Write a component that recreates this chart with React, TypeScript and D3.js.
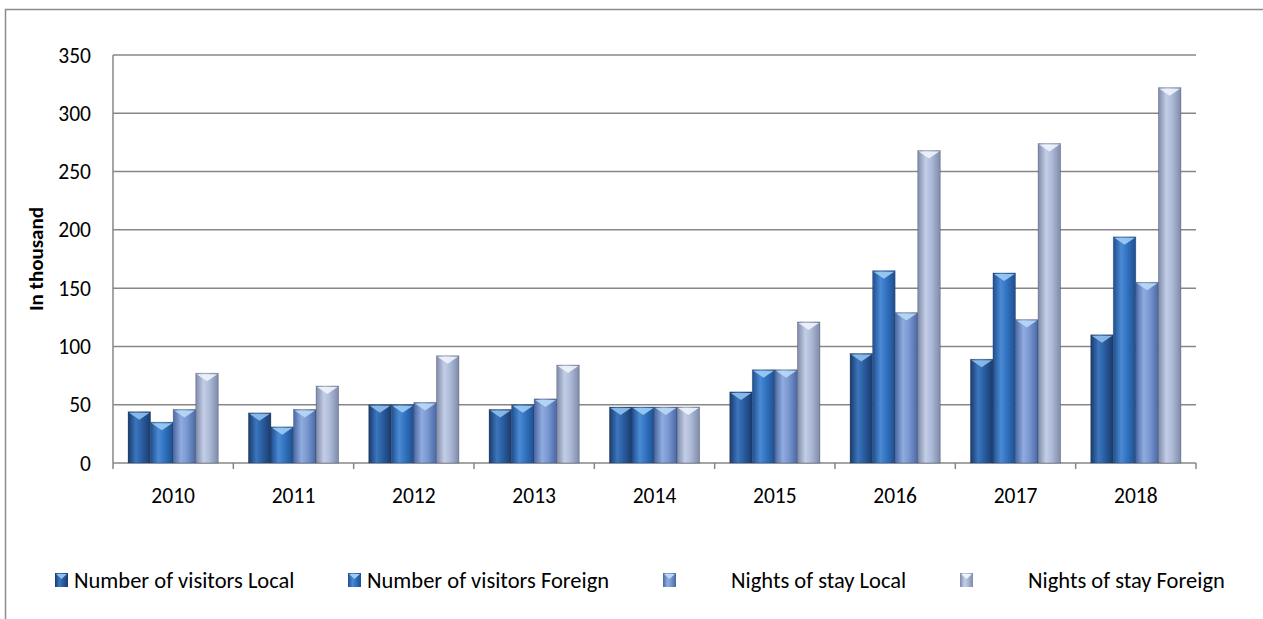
import React from 'react';
import * as d3 from 'd3';

const years = ['2010', '2011', '2012', '2013', '2014', '2015', '2016', '2017', '2018'];
const seriesNames = ['Number of visitors Local', 'Number of visitors Foreign', 'Nights of stay Local', 'Nights of stay Foreign'];
const visitorsLocal = [44, 43, 50, 46, 48, 61, 94, 89, 110];
const visitorsForeign = [35, 31, 50, 50, 48, 80, 165, 163, 194];
const nightsLocal = [46, 46, 52, 55, 48, 80, 129, 123, 155];
const nightsForeign = [77, 66, 92, 84, 48, 121, 268, 274, 322];
const yTicks = [0, 50, 100, 150, 200, 250, 300, 350];

const colors = [
  { dark: '#1a3a6c', mid: '#2b5fa3', light: '#3b76bd', cap: '#8fc1ee' },
  { dark: '#1f4e8e', mid: '#3274c2', light: '#4a8ad4', cap: '#9dcdf4' },
  { dark: '#4a68a3', mid: '#7a98d2', light: '#90abde', cap: '#b8daf6' },
  { dark: '#7d8aa8', mid: '#aebbd9', light: '#c3cde6', cap: '#eef4fc' },
];

const W = 1263;
const H = 619;
const margin = { left: 113, right: 67, top: 55, bottom: 156 };

// legend item positions (square left, text left)
const legendX = [55, 348, 663, 960];
const legendTextX = [74, 367, 731, 1028];

export default function App() {
  const data = [visitorsLocal, visitorsForeign, nightsLocal, nightsForeign];
  const x0 = d3.scaleBand<string>().domain(years).range([margin.left, W - margin.right]).paddingInner(0.25).paddingOuter(0.125);
  const band = d3.scaleBand<string>().domain(years).range([margin.left, W - margin.right]);
  const x1 = d3.scaleBand<number>().domain([0, 1, 2, 3]).range([0, x0.bandwidth()]);
  const y = d3.scaleLinear().domain([0, 350]).range([H - margin.bottom, margin.top]);
  const font = 'Carlito, Calibri, "Open Sans", sans-serif';

  return (
    <div style={{ position: 'absolute', left: 0, top: 0 }}>
      <svg width={W} height={H} style={{ display: 'block', background: '#fff' }}>
        <defs>
          {colors.map((c, i) => (
            <linearGradient key={i} id={`g${i}`} x1="0" x2="1" y1="0" y2="0">
              <stop offset="0" stopColor={c.dark} />
              <stop offset="0.35" stopColor={c.light} />
              <stop offset="0.6" stopColor={c.mid} />
              <stop offset="1" stopColor={c.dark} />
            </linearGradient>
          ))}
        </defs>
        <rect x={5.5} y={9.5} width={W - 4} height={H + 20} fill="none" stroke="#8c8c8c" strokeWidth={1.5} />

        {yTicks.map(t => (
          <g key={t}>
            <line x1={margin.left} x2={W - margin.right} y1={y(t)} y2={y(t)} stroke="#878787" strokeWidth={1.5} />
            <text x={91} y={y(t) + 7.5} textAnchor="end" fontFamily={font} fontSize={21.5} fill="#000">{t}</text>
          </g>
        ))}
        <line x1={margin.left} x2={margin.left} y1={margin.top} y2={y(0)} stroke="#878787" strokeWidth={1.5} />
        {[...years.map(yr => band(yr) as number), W - margin.right].map((xv, i) => (
          <line key={i} x1={xv} x2={xv} y1={y(0)} y2={y(0) + 6} stroke="#878787" strokeWidth={1.5} />
        ))}

        {years.map((yr, yi) => (
          <g key={yr}>
            {data.map((s, si) => {
              const bx = (x0(yr) as number) + (x1(si) as number);
              const bw = x1.bandwidth();
              const by = y(s[yi]);
              const bh = y(0) - by;
              return (
                <g key={si}>
                  <rect x={bx} y={by} width={bw} height={bh} fill={`url(#g${si})`} stroke="rgba(40,50,70,0.35)" strokeWidth={0.8} />
                  <path d={`M${bx + 1},${by + 1}L${bx + bw - 1},${by + 1}L${bx + bw / 2},${by + 8}Z`} fill={colors[si].cap} opacity={0.9} />
                </g>
              );
            })}
            <text x={(band(yr) as number) + band.bandwidth() / 2} y={503} textAnchor="middle" fontFamily={font} fontSize={21.5} fill="#000">{yr}</text>
          </g>
        ))}

        <text transform={`translate(43,${(margin.top + y(0)) / 2}) rotate(-90)`} textAnchor="middle" fontFamily={font} fontSize={21} fontWeight="bold" fill="#000">In thousand</text>

        {seriesNames.map((n, i) => (
          <g key={n}>
            <rect x={legendX[i]} y={573} width={13} height={14} fill={`url(#g${i})`} />
            <path d={`M${legendX[i] + 1},574L${legendX[i] + 12},574L${legendX[i] + 6.5},579Z`} fill={colors[i].cap} />
            <text x={legendTextX[i]} y={588} fontFamily={font} fontSize={22.5} fill="#000">{n}</text>
          </g>
        ))}
      </svg>
    </div>
  );
}
